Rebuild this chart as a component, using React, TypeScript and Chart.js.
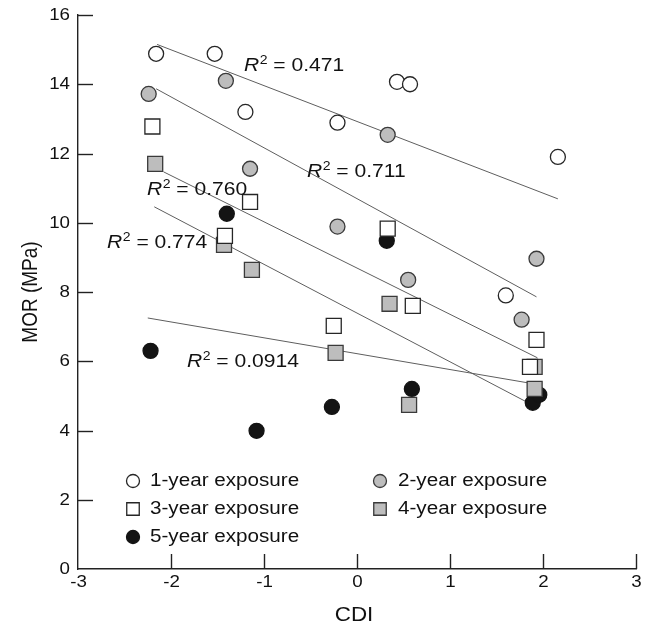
import { useEffect, useRef } from 'react';
import { Chart, registerables } from 'chart.js';

Chart.register(...registerables);

// ---------- data ----------
const xTickValues = [-3, -2, -1, 0, 1, 2, 3];
const yTickValues = [0, 2, 4, 6, 8, 10, 12, 14, 16];

const seriesNames = ['1-year exposure', '2-year exposure', '3-year exposure', '4-year exposure', '5-year exposure'];

const year1X = [-2.16, -1.53, -1.2, -0.21, 0.43, 0.57, 1.6, 2.16];
const year1Y = [14.88, 14.88, 13.2, 12.89, 14.07, 14.0, 7.9, 11.9];

const year2X = [-2.24, -1.41, -1.15, -0.21, 0.33, 0.55, 1.77, 1.93];
const year2Y = [13.72, 14.1, 11.56, 9.89, 12.54, 8.35, 7.2, 8.96];

const year3X = [-2.2, -1.42, -1.15, -0.25, 0.33, 0.6, 1.86, 1.93];
const year3Y = [12.78, 9.62, 10.6, 7.02, 9.83, 7.6, 5.84, 6.62];

const year4X = [-2.17, -1.43, -1.13, -0.23, 0.35, 0.56, 1.91, 1.91];
const year4Y = [11.7, 9.36, 8.64, 6.24, 7.66, 4.74, 5.84, 5.2];

const year5X = [-2.22, -1.4, -1.08, -0.27, 0.32, 0.59, 1.89, 1.96];
const year5Y = [6.3, 10.26, 3.99, 4.68, 9.48, 5.2, 4.8, 5.03];

// regression lines: [x0, y0, x1, y1]
const fit1 = [-2.15, 15.15, 2.16, 10.69];
const fit2 = [-2.16, 13.87, 1.93, 7.86];
const fit3 = [-2.08, 11.47, 1.94, 6.1];
const fit4 = [-2.18, 10.46, 1.82, 4.83];
const fit5 = [-2.25, 7.25, 1.83, 5.38];

// R² labels: value text and anchor (data coords, left / baseline)
const r2Texts = ['0.471', '0.711', '0.760', '0.774', '0.0914'];
const r2X = [-1.215, -0.538, -2.258, -2.688, -1.828];
const r2Y = [14.39, 11.33, 10.81, 9.28, 5.84];

// ---------- styles ----------
const FONT = '"Liberation Sans", Arial, Helvetica, sans-serif';
const SX = 1.17;
const WHITE = '#ffffff';
const GRAY = '#bdbdbd';
const BLACK = '#141414';
const EDGE = '#262626';
const GRAY_EDGE = '#3a3a3a';

type Sty = { style: 'circle' | 'rect'; fill: string; edge: string };
const styles: Sty[] = [
  { style: 'circle', fill: WHITE, edge: EDGE },
  { style: 'circle', fill: GRAY, edge: GRAY_EDGE },
  { style: 'rect', fill: WHITE, edge: EDGE },
  { style: 'rect', fill: GRAY, edge: GRAY_EDGE },
  { style: 'circle', fill: BLACK, edge: BLACK },
];

function pts(xs: number[], ys: number[]) {
  return xs.map((x, i) => ({ x, y: ys[i] }));
}
function seg(f: number[]) {
  return [{ x: f[0], y: f[1] }, { x: f[2], y: f[3] }];
}

function txt(ctx: CanvasRenderingContext2D, s: string, x: number, y: number, font: string,
  align: CanvasTextAlign, baseline: CanvasTextBaseline, sx = SX) {
  ctx.save();
  ctx.font = font;
  ctx.textAlign = align;
  ctx.textBaseline = baseline;
  ctx.fillStyle = '#111';
  ctx.translate(x, y);
  ctx.scale(sx, 1);
  ctx.fillText(s, 0, 0);
  ctx.restore();
}

function marker(ctx: CanvasRenderingContext2D, s: Sty, x: number, y: number, r: number, side: number) {
  ctx.save();
  ctx.fillStyle = s.fill;
  ctx.strokeStyle = s.edge;
  ctx.lineWidth = 1.3;
  ctx.beginPath();
  if (s.style === 'circle') ctx.arc(x, y, r, 0, Math.PI * 2);
  else ctx.rect(x - side / 2, y - side / 2, side, side);
  ctx.fill();
  ctx.stroke();
  ctx.restore();
}

const overlay = {
  id: 'overlay',
  afterDatasetsDraw(chart: any) {
    const ctx: CanvasRenderingContext2D = chart.ctx;
    const xs = chart.scales.x;
    const ys = chart.scales.y;
    // R² labels
    r2Texts.forEach((v, i) => {
      const px = xs.getPixelForValue(r2X[i]);
      const py = ys.getPixelForValue(r2Y[i]);
      ctx.save();
      ctx.font = `italic 18px ${FONT}`;
      const wR = ctx.measureText('R').width * SX;
      ctx.font = `12px ${FONT}`;
      const w2 = ctx.measureText('2').width * SX;
      ctx.restore();
      txt(ctx, 'R', px, py, `italic 18px ${FONT}`, 'left', 'alphabetic');
      txt(ctx, '2', px + wR + 0.5, py - 6.5, `12px ${FONT}`, 'left', 'alphabetic');
      txt(ctx, ' = ' + v, px + wR + w2 + 0.5, py, `18px ${FONT}`, 'left', 'alphabetic');
    });
  },
  afterDraw(chart: any) {
    const ctx: CanvasRenderingContext2D = chart.ctx;
    const xs = chart.scales.x;
    const ys = chart.scales.y;
    const { left, bottom } = chart.chartArea;
    ctx.save();
    ctx.strokeStyle = '#222';
    ctx.lineWidth = 1.4;
    // inward ticks
    yTickValues.forEach((v) => {
      const py = Math.round(ys.getPixelForValue(v)) + 0.5;
      if (v !== 0) {
        ctx.beginPath();
        ctx.moveTo(left, py);
        ctx.lineTo(left + 15, py);
        ctx.stroke();
      }
      txt(ctx, String(v), left - 8, py, `16px ${FONT}`, 'right', 'middle');
    });
    xTickValues.forEach((v) => {
      const px = Math.round(xs.getPixelForValue(v)) + 0.5;
      if (v !== -3) {
        ctx.beginPath();
        ctx.moveTo(px, bottom);
        ctx.lineTo(px, bottom - 15);
        ctx.stroke();
      }
      txt(ctx, String(v), px, bottom + 6, `16px ${FONT}`, 'center', 'top');
    });
    ctx.restore();

    // axis titles
    txt(ctx, 'CDI', (chart.chartArea.left + chart.chartArea.right) / 2 - 3, bottom + 46, `20px ${FONT}`, 'center', 'middle', 1.12);
    ctx.save();
    ctx.translate(31, (chart.chartArea.top + bottom) / 2 + 0);
    ctx.rotate(-Math.PI / 2);
    ctx.scale(1, 1.12);
    ctx.font = `19px ${FONT}`;
    ctx.textAlign = 'center';
    ctx.textBaseline = 'middle';
    ctx.fillStyle = '#111';
    ctx.fillText('MOR (MPa)', 0, 0);
    ctx.restore();

    // legend
    const colMarker = [left + 55, left + 302];
    const colText = [left + 72, left + 320];
    const rows = [bottom - 88, bottom - 60, bottom - 32];
    seriesNames.forEach((name, i) => {
      const c = i % 2;
      const r = Math.floor(i / 2);
      marker(ctx, styles[i], colMarker[c], rows[r], 6.5, 12.5);
      txt(ctx, name, colText[c], rows[r], `17.5px ${FONT}`, 'left', 'middle', 1.18);
    });
  },
};

export default function App() {
  const ref = useRef<HTMLCanvasElement | null>(null);
  useEffect(() => {
    if (!ref.current) return;
    const series = [
      pts(year1X, year1Y),
      pts(year2X, year2Y),
      pts(year3X, year3Y),
      pts(year4X, year4Y),
      pts(year5X, year5Y),
    ];
    const fits = [fit1, fit2, fit3, fit4, fit5];
    const datasets: any[] = series.map((d, i) => ({
      type: 'scatter',
      label: seriesNames[i],
      data: d,
      pointStyle: styles[i].style,
      pointRadius: styles[i].style === 'circle' ? 7.5 : 10.6,
      backgroundColor: styles[i].fill,
      borderColor: styles[i].edge,
      borderWidth: 1.3,
      order: 1,
    }));
    fits.forEach((f, i) => {
      datasets.push({
        type: 'line',
        label: 'fit' + (i + 1),
        data: seg(f),
        borderColor: '#5e5e5e',
        borderWidth: 1,
        pointRadius: 0,
        fill: false,
        order: 10,
      });
    });
    const chart = new Chart(ref.current, {
      type: 'scatter',
      data: { datasets },
      options: {
        animation: false,
        responsive: true,
        maintainAspectRatio: false,
        events: [],
        layout: { padding: { top: 15, right: 12, left: 0, bottom: 0 } },
        plugins: { legend: { display: false }, tooltip: { enabled: false } },
        scales: {
          x: {
            type: 'linear',
            min: -3,
            max: 3,
            ticks: { display: false, stepSize: 1 },
            grid: { display: false, drawTicks: false },
            border: { display: true, color: '#222', width: 1.4 },
            afterFit: (s: any) => { s.height = 58; },
          },
          y: {
            type: 'linear',
            min: 0,
            max: 16,
            ticks: { display: false, stepSize: 2 },
            grid: { display: false, drawTicks: false },
            border: { display: true, color: '#222', width: 1.4 },
            afterFit: (s: any) => { s.width = 78; },
          },
        },
      },
      plugins: [overlay],
    });
    return () => chart.destroy();
  }, []);
  return (
    <div style={{ position: 'absolute', left: 0, top: 0, width: 648, height: 627, background: '#fff' }}>
      <canvas ref={ref} />
    </div>
  );
}
